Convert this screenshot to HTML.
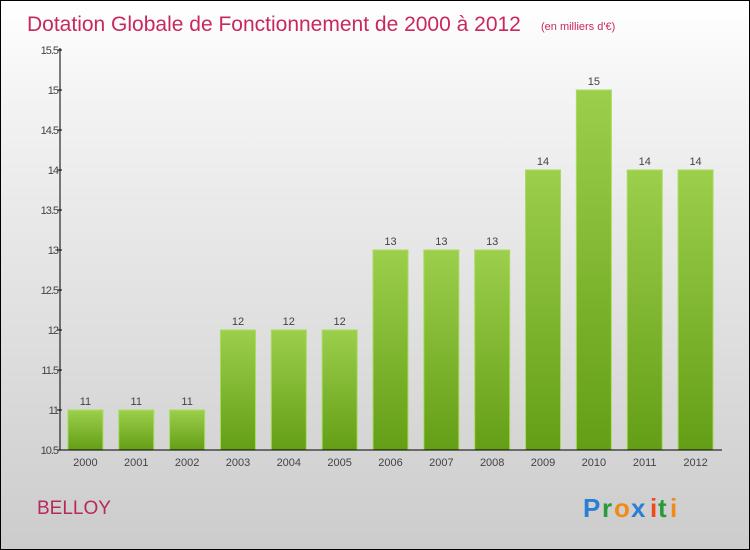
<!DOCTYPE html>
<html><head><meta charset="utf-8"><style>
body{margin:0}
#c{position:relative;width:748px;height:548px;border:1px solid #000;background:linear-gradient(#fff,#f2f2f2 20%,#ccc);font-family:"Liberation Sans",sans-serif;overflow:hidden}
</style></head><body>
<div id="c">
<svg id="s" width="748" height="548" style="position:absolute;left:0;top:0">
<defs><linearGradient id="g" x1="0" y1="0" x2="0" y2="1"><stop offset="0" stop-color="#9ccf4c"/><stop offset="1" stop-color="#649e16"/></linearGradient></defs>
<text x="26" y="30" font-size="21" fill="#c8285e">Dotation Globale de Fonctionnement de 2000 à 2012</text>
<text x="540" y="29" font-size="11" fill="#c8285e">(en milliers d'€)</text>
<text x="36" y="513" font-size="19" fill="#b8285e">BELLOY</text>
<g font-size="26" font-weight="bold">
<text x="582" y="516" fill="#2a7fd4">P</text><text x="601" y="516" fill="#2a9a3a">r</text><text x="613" y="516" fill="#f08a1a">o</text><text x="630" y="516" fill="#2a7fd4">x</text><text x="649" y="516" fill="#f04a1a">i</text><text x="657" y="516" fill="#2a9a3a">t</text><text x="669" y="516" fill="#f08a1a">i</text></g>
</svg>
</div>
<script>
const categories=["2000","2001","2002","2003","2004","2005","2006","2007","2008","2009","2010","2011","2012"];
const values=[11,11,11,12,12,12,13,13,13,14,15,14,14];
const yTicks=[10.5,11,11.5,12,12.5,13,13.5,14,14.5,15,15.5];
const yTickLabels=["10.5","11","11.5","12","12.5","13","13.5","14","14.5","15","15.5"];
const s=document.getElementById('s');const NS='http://www.w3.org/2000/svg';
const X0=59,X1=720,Y0=449,Y1=49,ymin=10.5,ymax=15.5;
const y=v=>Y0-(v-ymin)/(ymax-ymin)*(Y0-Y1);
const band=(X1-X0)/categories.length;
const xc=i=>X0+band*(i+0.5);
function mk(t,a,txt){const e=document.createElementNS(NS,t);for(const k in a)e.setAttribute(k,a[k]);if(txt!=null)e.textContent=txt;s.appendChild(e);return e;}
values.forEach((v,i)=>{
const r=mk('rect',{x:xc(i)-17.5,y:y(v),width:35,height:Y0-y(v),fill:'url(#g)',stroke:'#a8dc60','stroke-width':1});


const t=mk('text',{x:xc(i),y:y(v)-5,'font-size':11,fill:'#444','text-anchor':'middle'},String(v));


const c=mk('text',{x:xc(i),y:Y0+16,'font-size':11,fill:'#444','text-anchor':'middle'},categories[i]);


});
yTicks.forEach((v,i)=>{
mk('line',{x1:X0-3,x2:X0+2,y1:y(v),y2:y(v),stroke:'#000'});
const t=mk('text',{x:X0-2,y:y(v)+4,'font-size':11,fill:'#444','text-anchor':'end','letter-spacing':'-1'},yTickLabels[i]);


});
const ya=mk('line',{x1:X0,x2:X0,y1:Y1-2,y2:Y0,stroke:'#000'});


const xa=mk('line',{x1:X0,x2:X1+1,y1:Y0,y2:Y0,stroke:'#000'});


</script>
</body></html>
